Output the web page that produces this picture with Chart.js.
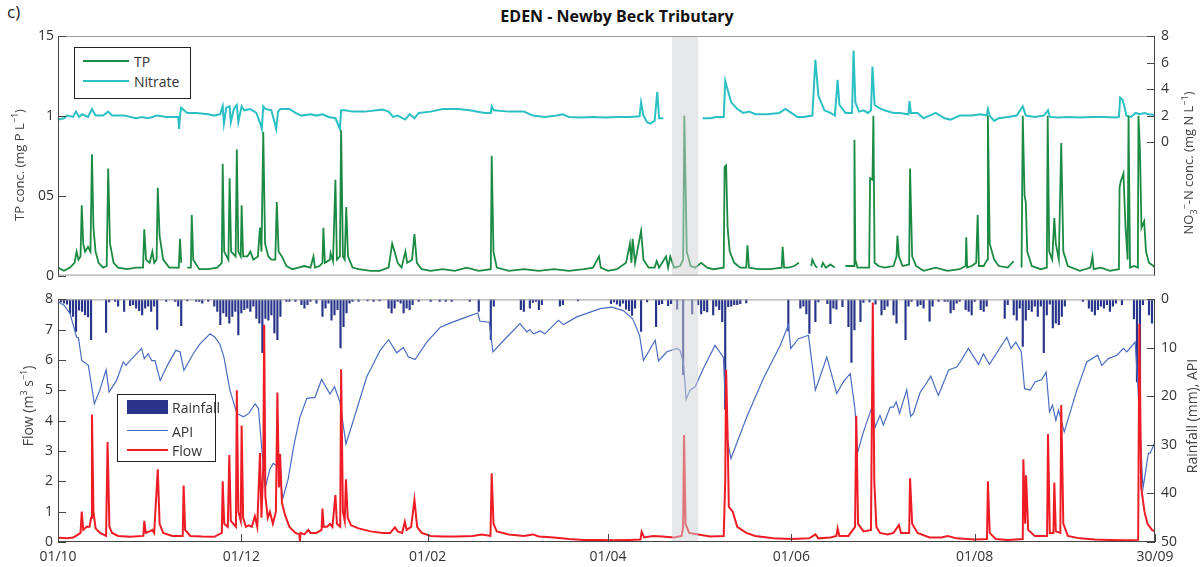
<!DOCTYPE html>
<html>
<head>
<meta charset="utf-8">
<script src="https://cdn.jsdelivr.net/npm/chart.js@4.4.1/dist/chart.umd.min.js"></script>
<style>
  html, body { margin:0; padding:0; background:#fff; }
  body { width:1203px; height:567px; position:relative; overflow:hidden; font-family:"Open Sans", "DejaVu Sans", sans-serif; color:#333; }
  canvas { position:absolute; left:0; }
  .txt { position:absolute; white-space:nowrap; }
  .rot { position:absolute; white-space:nowrap; transform:translate(-50%,-50%) rotate(-90deg); font-size:13px; color:#444; }
  .legend { position:absolute; border:1px solid #222; background:#fff; box-sizing:border-box; }
  .lline { position:absolute; }
  .ltxt { position:absolute; font-size:14px; color:#333; transform:translateY(-50%); }
</style>
</head>
<body>
<div class="txt" style="left:7px; top:0px; font-size:17px; color:#222;">c)</div>
<div class="txt" style="left:617px; top:16px; transform:translate(-50%,-50%); font-size:16px; font-weight:bold; color:#111;">EDEN - Newby Beck Tributary</div>

<canvas id="top" width="1203" height="290" style="top:0px;"></canvas>
<canvas id="bot" width="1203" height="282" style="top:285px;"></canvas>

<div class="rot" style="left:18px; top:165px;">TP conc. (mg P L<sup style="font-size:9px">−1</sup>)</div>
<div class="rot" style="left:1189px; top:163px;">NO<sub style="font-size:9px">3</sub><sup style="font-size:9px">−</sup>-N conc. (mg N L<sup style="font-size:9px">−1</sup>)</div>
<div class="rot" style="left:27px; top:406px; font-size:14px;">Flow (m<sup style="font-size:9px">3</sup> s<sup style="font-size:9px">−1</sup>)</div>
<div class="rot" style="left:1191px; top:416px; font-size:14px;">Rainfall (mm), API</div>

<div class="legend" style="left:74px; top:47px; width:117px; height:52px;"></div>
<div class="lline" style="left:83px; top:60px; width:46px; height:2px; background:#1b8a43;"></div>
<div class="ltxt" style="left:134px; top:61px;">TP</div>
<div class="lline" style="left:83px; top:80px; width:46px; height:2px; background:#2cc0c4;"></div>
<div class="ltxt" style="left:134px; top:81px;">Nitrate</div>

<div class="legend" style="left:117px; top:394px; width:99px; height:68px;"></div>
<div class="lline" style="left:127px; top:400px; width:41px; height:14px; background:#28348a;"></div>
<div class="ltxt" style="left:172px; top:407px;">Rainfall</div>
<div class="lline" style="left:127px; top:430px; width:41px; height:1px; background:#4466bb;"></div>
<div class="ltxt" style="left:172px; top:431px;">API</div>
<div class="lline" style="left:127px; top:449px; width:41px; height:1.5px; background:#ee1c24;"></div>
<div class="ltxt" style="left:172px; top:450px;">Flow</div>

<script>
// ---------------- DATA (day index from 01/10) ----------------
const xTickDays   = [0, 61, 123, 183, 244, 305, 365];
const xTickLabels = ['01/10', '01/12', '01/02', '01/04', '01/06', '01/08', '30/09'];
const bandDays    = [204.3, 213];

const tpTickValues  = [0, 0.5, 1, 1.5];
const tpTickLabels  = ['0', '05', '1', '15'];
const no3TickValues = [0, 2, 4, 6, 8];
const flowTickValues = [0, 1, 2, 3, 4, 5, 6, 7, 8];
const rainTickValues = [0, 10, 20, 30, 40, 50];

// TP concentration (mg P/L)
const tpSeries = [
 [0,0.05],[2,0.03],[4,0.05],[5.5,0.08],[6.2,0.15],[6.8,0.1],[7.5,0.12],[7.9,0.44],[8.4,0.2],[9,0.15],[10,0.18],[10.8,0.15],
 [11.3,0.76],[11.8,0.3],[12.5,0.15],[13.5,0.08],[15,0.05],[16.2,0.06],[16.7,0.67],[17.3,0.2],[18.5,0.08],[20,0.05],[23,0.04],
 [26,0.05],[28.3,0.05],[28.7,0.29],[29.3,0.1],[30.5,0.08],[31.4,0.15],[32,0.08],[32.8,0.1],[33.2,0.55],[33.8,0.25],[35,0.1],
 [37,0.05],[40.2,0.05],[40.6,0.23],[41,0.08],[41.5,null],[43,0.05],[44.2,0.05],[44.5,0.38],[45,0.1],[47,0.04],[50,0.04],[53,0.05],
 [54.5,0.08],[54.8,0.70],[55.3,0.15],[56.7,0.1],[57.1,0.61],[57.6,0.15],[59.1,0.12],[59.5,0.79],[60,0.15],[60.8,0.12],[61.1,0.44],
 [61.6,0.12],[63,0.12],[64,0.15],[65,0.1],[66.5,0.12],[67.2,0.30],[67.7,0.15],[68.3,0.90],[68.9,0.2],[70,0.12],[71,0.1],[72.3,0.1],
 [72.8,0.46],[73.4,0.15],[74.5,0.12],[76,0.06],[78,0.04],[80,0.05],[82,0.06],[84,0.05],[85,0.12],[85.5,0.05],[87,0.06],[88,0.08],
 [88.3,0.30],[88.8,0.08],[90.5,0.1],[90.7,0.14],[91.5,0.09],[92.3,0.60],[92.8,0.1],[93.8,0.12],[94.2,0.91],[94.8,0.12],[95.4,0.1],
 [95.9,0.43],[96.5,0.12],[98,0.05],[100,0.04],[104,0.03],[107,0.03],[110,0.05],[111.2,0.2],[112,0.15],[113,0.08],[114.3,0.05],
 [115.6,0.15],[116.2,0.08],[117.8,0.1],[118.6,0.26],[119.4,0.08],[121,0.04],[124,0.03],[128,0.04],[132,0.03],[136,0.05],[140,0.03],
 [144,0.04],[144.3,0.75],[144.9,0.15],[146,0.05],[150,0.03],[155,0.04],[160,0.03],[165,0.04],[170,0.03],[175,0.04],[178,0.05],
 [180,0.12],[180.6,0.05],[183,0.03],[186,0.04],[189,0.08],[190.3,0.2],[190.8,0.08],[191.2,0.23],[192,0.08],[194,0.28],[194.8,0.1],
 [196.5,0.05],[198.5,0.05],[199.2,0.09],[200,0.05],[202.3,0.12],[203,0.05],[203.7,0.12],[205,0.05],[207,0.06],[208,0.1],[208.4,1.0],
 [209.2,0.15],[210.5,0.06],[212,0.05],[214,0.08],[216,0.05],[218,0.04],[221.5,0.05],[221.8,0.68],[222.3,0.69],[222.8,0.3],[223.5,0.15],
 [225,0.08],[227,0.05],[229,0.05],[229.4,0.19],[229.9,0.05],[233,0.04],[237,0.04],[240.8,0.05],[241.1,0.18],[241.6,0.05],[243,0.05],
 [245,0.06],[246.5,0.08],[247,null],[250.6,0.06],[251,0.1],[252,0.06],[252.6,0.05],[253,null],[254,0.05],[254.5,0.08],[255.5,0.05],
 [257,0.07],[258.5,0.05],[259,null],[262,0.06],[264,0.06],[264.9,0.06],[265,0.85],[265.3,0.1],[266,0.05],[268,0.05],[269.9,0.05],
 [270.2,0.61],[271,0.6],[271.3,1.0],[271.7,0.08],[273,0.06],[275,0.05],[278,0.06],[279,0.12],[279.3,0.25],[279.8,0.12],[281,0.06],
 [283.2,0.07],[283.5,0.67],[284.2,0.12],[285.5,0.06],[288,0.03],[292,0.05],[296,0.03],[300,0.04],[302,0.06],[302.2,0.24],[302.5,0.05],
 [304,0.06],[305.5,0.08],[306,0.38],[306.4,0.06],[308,0.06],[309.2,0.1],[309.4,1.0],[310,0.2],[311.5,0.1],[313,0.06],[316,0.05],
 [318,0.09],[318.3,null],[320.6,0.05],[321,1.0],[321.6,0.5],[322,0.46],[322.5,0.15],[324,0.06],[327,0.04],[329,0.05],[329.3,1.0],
 [329.8,0.15],[330.8,0.1],[331.5,0.36],[332,0.2],[333,0.1],[333.8,0.83],[334.5,0.15],[336,0.06],[340,0.03],[343.5,0.05],[344.2,0.12],
 [344.6,0.04],[347,0.05],[350,0.03],[353,0.04],[353.2,0.55],[353.6,0.59],[354.5,0.64],[355.2,0.3],[355.9,0.1],[356.2,1.0],[356.7,0.05],
 [358,0.06],[359.3,0.05],[359.5,1.0],[360,0.78],[360.5,0.3],[361.4,0.34],[362,0.15],[363,0.08],[364.5,0.06],[365,0.05]
];

// Nitrate (mg N/L)
const no3Series = [
 [0,1.7],[2,1.8],[3,2.0],[5,1.9],[6,2.3],[7,1.9],[8,2.1],[10,1.9],[11.3,2.5],[12.5,2.0],[15,2.0],[16.7,2.3],[18,2.0],[22,2.0],
 [26,1.8],[28,1.9],[30,1.8],[33,2.0],[36,1.9],[40,1.9],[40.3,1.0],[40.6,2.0],[41,2.6],[43,2.2],[46,2.2],[50,2.1],[52,2.0],[54,2.1],
 [54.8,2.7],[55.2,1.4],[56,2.6],[57.1,2.7],[57.5,1.5],[58.5,2.5],[59.5,2.8],[60,1.5],[61.1,2.7],[62,2.4],[64,2.5],[66,2.2],[67.3,1.4],
 [67.8,1.0],[68.3,2.7],[69,2.5],[71,2.4],[72.6,1.0],[73.2,2.3],[74,2.5],[77,2.5],[79,2.2],[81,2.0],[84,2.1],[86,2.0],[88,2.1],
 [90,1.9],[92.3,1.8],[93.8,1.0],[94.2,2.4],[95.5,2.4],[98,2.3],[102,2.3],[106,2.4],[108,2.45],[110,2.3],[111.5,1.9],[113,2.0],
 [115.5,1.7],[117,2.1],[118.6,1.8],[120,2.2],[124,2.3],[128,2.5],[133,2.5],[137,2.4],[142,2.2],[144,2.2],[144.3,2.7],[145,2.4],
 [150,2.3],[155,2.3],[158,2.0],[162,1.9],[166,2.0],[168,2.1],[170,1.9],[174,1.85],[178,1.9],[182,1.85],[186,1.9],[190,1.9],
 [193.5,1.95],[194,3.0],[194.8,2.0],[196,1.5],[197,1.4],[198.5,1.6],[199.4,3.8],[200,1.8],[201.4,1.8],[202,null],[214.5,1.8],
 [217,1.8],[219,1.9],[221.5,1.9],[222,4.6],[223,3.8],[224,3.0],[226,2.5],[228,2.2],[230,2.3],[232,2.1],[236,2.1],[240,2.2],
 [242,2.5],[244,2.2],[246,1.9],[248,1.9],[251,2.0],[252,6.2],[253,3.5],[255,2.4],[257,2.2],[258.5,2.0],[259.4,4.7],[260,2.8],
 [261,2.5],[262,2.2],[264.2,2.2],[264.7,6.9],[265.3,3.0],[266.5,2.3],[268,2.4],[269.5,2.2],[270.5,2.4],[271,5.7],[271.7,2.8],
 [273,2.6],[275,2.4],[278,2.2],[280,2.2],[283,2.1],[283.3,3.1],[283.8,2.2],[286,2.2],[288,1.8],[290,2.0],[292,2.2],[295,1.8],
 [297,1.7],[300,2.0],[304,2.0],[307,2.1],[309,2.0],[309.4,2.5],[310,2.0],[311.5,1.6],[313,1.8],[316,1.9],[319,2.0],[321,2.7],
 [322,2.0],[325,1.9],[328,2.0],[329.4,2.4],[330,1.9],[333,1.85],[336,1.9],[340,1.85],[344,1.9],[348,1.9],[352,1.85],[353,1.9],
 [353.4,3.36],[354.2,3.2],[354.8,2.7],[355.5,2.0],[357,1.9],[358.5,2.2],[360,2.1],[361.5,2.2],[363,2.1],[365,2.05]
];

// Flow (m3/s)
const flowSeries = [
 [0,0.14],[3,0.12],[5,0.15],[6,0.2],[7.5,0.3],[7.9,1.0],[8.4,0.4],[9.5,0.5],[10.5,0.5],[11,0.8],[11.3,4.2],[11.8,1.0],[12.5,0.45],
 [14,0.3],[16,0.2],[16.5,3.3],[17.1,0.5],[18,0.3],[20,0.2],[24,0.17],[28.4,0.2],[28.7,0.7],[29.2,0.3],[30.5,0.35],[31.4,0.4],
 [32,0.3],[33.2,2.4],[33.8,0.6],[35,0.3],[38,0.2],[41.5,0.2],[41.8,1.86],[42.3,0.4],[44,0.2],[48,0.18],[52,0.17],[54.5,0.3],
 [54.8,2.0],[55.3,0.6],[56.5,0.5],[57,2.87],[57.5,0.7],[59.2,0.5],[59.5,5.0],[60,1.0],[60.8,0.7],[61.1,3.84],[61.6,0.8],[62.5,0.5],
 [63.5,0.55],[64.5,0.5],[65.5,0.85],[66.3,0.5],[67.2,2.93],[67.7,0.8],[68.3,2.5],[68.6,7.16],[69,1.5],[69.8,0.8],[70.5,1.0],
 [71.5,0.6],[72.5,1.0],[73,4.93],[73.5,1.8],[73.9,2.9],[74.5,1.3],[75.5,0.9],[77,0.5],[79,0.3],[80.3,0.25],[80.5,0.0],[80.7,0.3],
 [82,0.25],[83.3,0.4],[84,0.3],[86,0.3],[87.7,0.4],[88,1.1],[88.4,0.5],[89.5,0.5],[90.5,0.6],[91.3,0.5],[92.3,1.55],[92.8,0.6],
 [93.9,0.5],[94.2,5.7],[94.8,1.0],[95.4,0.7],[95.8,2.07],[96.4,0.8],[97.5,0.55],[100,0.45],[104,0.35],[108,0.3],[110.5,0.3],
 [112.1,0.48],[113,0.35],[114.5,0.3],[115.4,0.67],[116,0.4],[117.5,0.5],[118.6,1.39],[119.5,0.5],[121,0.3],[124,0.2],[128,0.18],
 [133,0.18],[138,0.2],[141,0.25],[143.9,0.2],[144.3,2.27],[144.9,0.6],[146,0.35],[150,0.25],[155,0.2],[158,0.25],[160,0.18],
 [165,0.15],[170,0.1],[175,0.07],[180,0.07],[185,0.06],[190,0.07],[193.8,0.08],[194.2,0.34],[195,0.15],[198,0.2],[201,0.18],
 [205,0.15],[207.5,0.2],[208,0.5],[208.3,3.53],[208.8,0.6],[210,0.3],[213,0.25],[217,0.18],[221.5,0.2],[222,2.0],[222.3,5.68],
 [222.8,3.5],[223.2,1.16],[224.5,1.0],[226,0.5],[229,0.3],[232,0.2],[238,0.12],[244,0.1],[250,0.12],[252,0.25],[253,0.12],
 [257,0.15],[259,0.2],[259.4,0.45],[260,0.2],[263,0.2],[265.2,0.5],[265.6,4.16],[266.2,0.6],[268,0.35],[270.5,0.4],[271.1,7.9],
 [271.6,2.0],[272.3,0.5],[273.5,0.3],[276,0.25],[278,0.3],[279.8,0.56],[280.5,0.3],[283.2,0.3],[283.5,2.1],[284.2,0.6],[286,0.3],
 [290,0.15],[294,0.15],[296,0.2],[299,0.12],[305,0.08],[309.1,0.1],[309.4,2.0],[310,0.3],[312,0.1],[316,0.07],[321,0.1],
 [321.2,2.73],[321.8,0.6],[322.1,2.2],[322.8,0.4],[325,0.2],[329.1,0.2],[329.4,3.56],[330,0.3],[331.2,0.3],[331.5,1.96],[332,0.35],
 [333.5,0.3],[333.8,4.52],[334.5,0.6],[336,0.2],[340,0.12],[345,0.08],[350,0.07],[355,0.06],[359.4,0.07],[359.8,7.2],[360.4,1.8],
 [361.5,1.0],[362.5,0.6],[364,0.4],[365,0.35]
];

// Antecedent precipitation index (right axis)
const apiSeries = [
 [0,0.5],[2,1.2],[4,2.9],[6.2,7.8],[6.8,7.9],[7.9,12.6],[10.1,13.6],[12.1,21.5],[13.9,18.7],[16,14.5],[17,19.1],[19.5,16.7],
 [21.7,12.9],[22.6,13.6],[24,12.6],[27.8,10.1],[28.7,12.2],[30,11.2],[31.2,12.6],[32.3,12.6],[34,16.7],[36.2,13.8],[39.2,10.5],
 [40.6,10.8],[41.9,14.6],[45,11.2],[47.3,9.1],[50.6,7.1],[52.2,7.8],[53.9,9.3],[55.2,11.9],[57.2,18.7],[59.5,23.5],[61.7,24.2],
 [63.5,23.5],[65.6,21.5],[66.7,22.5],[68.3,34.5],[68.9,39],[70.5,35],[71.6,33.8],[73.3,34.5],[74.8,41],[76.6,37],[78.5,30],
 [80.5,24.3],[82.8,20.4],[85.5,20.2],[87.7,16.5],[90.5,19.5],[92,18],[93.8,21.1],[95.8,29.8],[98.3,24.9],[102.7,16],[107.2,10.5],
 [110,8.3],[112.7,11],[114.9,9.9],[116.6,11.9],[118.8,12.4],[122.7,8.8],[127.1,5.8],[130.4,4.9],[136,3.6],[139.7,2.8],[140.4,4.5],
 [143.5,4.7],[144.7,10.8],[149.3,7.8],[153.7,5.0],[156,6.7],[157,6.2],[158.2,7.1],[160.4,6.5],[162,7.1],[166.5,4.3],[168.2,5.2],
 [172.6,3.6],[180.4,1.9],[184.3,1.6],[188.1,2.3],[191.2,4.0],[193.5,7.4],[194.8,12.6],[198.7,8.4],[199.8,12.7],[202.6,10.8],
 [205.9,10.1],[207,10.5],[208.1,13.2],[209,20.6],[210.3,18.7],[212,18],[214.7,14.3],[218.6,9.5],[221.4,11.9],[222.5,28.3],
 [223.9,32.8],[229.2,24.2],[234.7,16.3],[240.3,9.5],[243,5.3],[243.8,10.1],[246.4,8.1],[249.7,7.4],[252,18.7],[255.8,11.9],
 [259.1,19.4],[261.3,17],[263.6,15.3],[265.2,22.8],[266,31.7],[268,27.3],[270.8,22.2],[271.9,26.3],[273.5,23.9],[274.6,25.9],
 [276.9,22.2],[278,22.2],[278.9,21.1],[280,23.5],[282.4,18.6],[283.7,24.1],[284.6,23.5],[286.9,19.1],[288.5,17.7],[290.4,15.8],
 [292.9,19.8],[296.3,14.6],[299.1,13.9],[300.2,12.9],[302.9,10.1],[306.3,13.4],[307.9,11.2],[309.9,13.4],[315.7,7.8],[317.1,10.1],
 [318.7,8.8],[320.5,10.8],[321.6,18.4],[323.5,18.7],[325.1,17],[327.3,16.5],[328.8,15],[329.9,23.2],[330.9,21.8],[332,24.9],
 [332.9,22.8],[334.8,27.3],[339,18.7],[342.3,12.9],[345.9,11.5],[347.3,13.6],[349.5,12.2],[352.3,11.5],[354.5,10.1],[355.6,10.8],
 [358.4,8.8],[359.2,16.7],[361,39],[362.8,31.7],[363.4,31.7],[364.8,29.7]
];

// Daily rainfall (mm)
const rainSeries = [
 [1,0.5],[2,0.8],[3,1.0],[4,2.9],[5,3.5],[6,6.6],[7,2.2],[8,2.5],[9,3.2],[10,3.6],[11,8.3],[16,6.8],[17,0.5],[19,0.4],[20,1.4],
 [22,2.5],[24,1.3],[25,1.1],[26,1.8],[27,2.3],[28,3.2],[29,1.8],[30,1.4],[31,2.5],[32,1.4],[33,6.2],[36,0.4],[39,0.4],[40,1.4],
 [41,5.4],[43,0.3],[46,0.4],[47,0.4],[48,0.8],[50,0.4],[52,1.4],[53,2.5],[54,5.2],[55,2.8],[56,3.5],[57,4.9],[58,3.5],[59,2.5],
 [60,7.3],[61,2.8],[62,2.1],[63,1.8],[64,2.5],[65,1.4],[66,3.9],[67,4.9],[68,11],[69,3.9],[70,4.3],[71,3.2],[72,6.9],[73,8.3],
 [74,3.5],[76,0.4],[77,0.4],[79,0.4],[81,1.1],[82,1.8],[83,1.1],[84,0.4],[86,0.8],[88,3.5],[89,1.8],[90,0.8],[91,4.3],[92,3.2],
 [93,2.1],[94,10.0],[95,5.6],[96,2.8],[97,0.8],[98,0.4],[100,0.4],[103,0.3],[105,0.4],[107,0.3],[110,1.8],[111,2.8],[112,1.8],
 [113,0.4],[114,0.8],[115,2.8],[116,1.8],[117,2.1],[118,1.1],[120,0.4],[124,0.4],[127,0.4],[129,0.4],[131,0.4],[137,0.4],
 [140,2.5],[144,8.3],[145,1.4],[154,2.1],[155,2.5],[157,1.8],[158,0.6],[159,0.4],[160,2.1],[161,1.1],[167,1.4],[168,1.1],[173,0.3],
 [184,0.9],[185,0.5],[186,1.0],[187,1.4],[188,0.8],[189,2.0],[190,2.3],[191,3.3],[192,1.8],[194,6.6],[196,0.5],[199,5.6],[200,1.1],
 [201,0.9],[203,1.3],[204,0.9],[206,2.0],[208,15.5],[211,3.0],[213,1.1],[214,3.0],[215,2.3],[216,2.6],[218,3.2],[219,1.4],[220,2.1],
 [221,4.6],[222,22.6],[223,1.5],[224,1.4],[225,1.1],[226,1.1],[227,0.9],[229,0.7],[243,6.5],[247,1.8],[248,1.4],[249,3.0],[250,7.0],
 [252,4.6],[253,0.5],[256,0.9],[257,5.0],[258,1.8],[259,2.0],[261,1.5],[263,5.6],[264,13],[265,6.3],[267,4.6],[268,0.6],[270,0.5],
 [272,1.0],[274,3.2],[275,2.1],[276,1.4],[278,3.2],[279,4.9],[282,8.3],[283,1.4],[284,0.4],[286,1.4],[287,1.1],[288,1.8],[290,4.5],
 [291,1.4],[293,0.4],[295,0.4],[296,0.4],[297,2.8],[298,2.1],[299,0.8],[300,0.4],[302,2.1],[303,2.5],[304,3.2],[305,0.4],[307,2.1],
 [308,2.5],[309,1.4],[315,3.9],[316,1.1],[318,3.2],[319,4.3],[320,1.8],[321,9.7],[322,4.3],[323,2.1],[324,2.5],[325,1.4],[326,3.5],
 [327,1.4],[328,11.0],[329,3.2],[330,1.0],[331,5.9],[332,4.9],[333,5.2],[334,3.5],[335,1.4],[341,0.4],[343,1.8],[344,2.5],[345,3.2],
 [346,2.1],[347,1.4],[348,1.8],[349,1.1],[350,2.5],[351,1.4],[352,0.8],[354,1.1],[358,4.0],[359,17],[360,18],[361,1.1],[363,3.2],
 [364,4.9]
];

// ---------------- helpers ----------------
const toXY = s => s.map(p => ({x: p[0], y: p[1]}));
const FONT = {family: '"Open Sans", "DejaVu Sans", sans-serif', size: 14};
const TICKCOL = '#333';

function fixedTicks(values) {
  return function(scale) { scale.ticks = values.map(v => ({value: v})); };
}

const framePlugin = {
  id: 'frame',
  afterDatasetsDraw(chart, args, opts) {
    const {ctx, chartArea: a, scales} = chart;
    ctx.save();
    // highlighted period
    const bx0 = scales.x.getPixelForValue(bandDays[0]);
    const bx1 = scales.x.getPixelForValue(bandDays[1]);
    ctx.fillStyle = 'rgba(206,208,212,0.5)';
    ctx.fillRect(bx0, a.top, bx1 - bx0, a.bottom - a.top);
    // box
    ctx.lineWidth = 1;
    ctx.strokeStyle = opts.boxColor || '#999';
    ctx.strokeRect(a.left + 0.5, a.top + 0.5, a.right - a.left - 1, a.bottom - a.top - 1);
    ctx.strokeStyle = '#444';
    ctx.beginPath();
    ctx.moveTo(a.left + 0.5, a.top); ctx.lineTo(a.left + 0.5, a.bottom);
    ctx.moveTo(a.right - 0.5, a.top); ctx.lineTo(a.right - 0.5, a.bottom);
    if (opts.bottomDark) { ctx.moveTo(a.left, a.bottom - 0.5); ctx.lineTo(a.right, a.bottom - 0.5); }
    ctx.stroke();
    // inward ticks
    ctx.strokeStyle = '#444';
    ctx.beginPath();
    for (const id of Object.keys(scales)) {
      const s = scales[id];
      if (!s.options.display) continue;
      for (const t of s.ticks) {
        const p = Math.round(s.getPixelForValue(t.value)) + 0.5;
        if (s.axis === 'y') {
          if (s.position === 'left') { ctx.moveTo(a.left, p); ctx.lineTo(a.left + 8, p); }
          else { ctx.moveTo(a.right, p); ctx.lineTo(a.right - 8, p); }
        } else {
          ctx.moveTo(p, a.bottom); ctx.lineTo(p, a.bottom - 8);
        }
      }
    }
    ctx.stroke();
    ctx.restore();
  }
};

Chart.defaults.font = FONT;
Chart.defaults.color = TICKCOL;

const yAxisCommon = {
  grid: {display: false, drawTicks: false},
  border: {display: false},
};

// ---------------- top panel ----------------
new Chart(document.getElementById('top'), {
  type: 'line',
  data: {
    datasets: [
      {label: 'TP', data: toXY(tpSeries), yAxisID: 'y', borderColor: '#1b8a43', borderWidth: 1.8,
       pointRadius: 0, tension: 0, spanGaps: false, order: 0},
      {label: 'Nitrate', data: toXY(no3Series), yAxisID: 'y2', borderColor: '#2cc0c4', borderWidth: 2,
       pointRadius: 0, tension: 0, spanGaps: false, order: 1}
    ]
  },
  options: {
    responsive: false, animation: false, devicePixelRatio: 1,
    layout: {padding: {top: 36, bottom: 12, left: 0, right: 0}},
    plugins: {legend: {display: false}, tooltip: {enabled: false}, frame: {boxColor: '#9a9a9a'}},
    scales: {
      x: {type: 'linear', min: 0, max: 365, display: false},
      y: Object.assign({}, yAxisCommon, {
        position: 'left', min: 0, max: 1.5,
        afterBuildTicks: fixedTicks(tpTickValues),
        afterFit: s => { s.width = 58; },
        ticks: {padding: 4, color: TICKCOL, callback: v => tpTickLabels[tpTickValues.indexOf(v)]}
      }),
      y2: Object.assign({}, yAxisCommon, {
        position: 'right', min: -10.06, max: 8,
        afterBuildTicks: fixedTicks(no3TickValues),
        afterFit: s => { s.width = 48; },
        ticks: {padding: 6, color: TICKCOL}
      })
    }
  },
  plugins: [framePlugin]
});

// ---------------- bottom panel ----------------
new Chart(document.getElementById('bot'), {
  type: 'bar',
  data: {
    datasets: [
      {type: 'line', label: 'Flow', data: toXY(flowSeries), yAxisID: 'y', borderColor: '#ee1c24', borderWidth: 2,
       pointRadius: 0, tension: 0, order: 0},
      {type: 'line', label: 'API', data: toXY(apiSeries), yAxisID: 'y2', borderColor: '#4a6cc0', borderWidth: 1.2,
       pointRadius: 0, tension: 0, order: 1},
      {type: 'bar', label: 'Rainfall', data: toXY(rainSeries), yAxisID: 'y2', backgroundColor: '#28348a',
       barThickness: 1.5, order: 2}
    ]
  },
  options: {
    responsive: false, animation: false, devicePixelRatio: 1,
    layout: {padding: {top: 14, bottom: 0, left: 0, right: 0}},
    plugins: {legend: {display: false}, tooltip: {enabled: false}, frame: {boxColor: '#9a9a9a', bottomDark: true}},
    scales: {
      x: {
        type: 'linear', min: 0, max: 365, offset: false,
        grid: {display: false, drawTicks: false, offset: false},
        border: {display: false},
        afterBuildTicks: fixedTicks(xTickDays),
        afterFit: s => { s.height = 25; },
        ticks: {padding: 7, maxRotation: 0, autoSkip: false, color: TICKCOL,
                callback: v => xTickLabels[xTickDays.indexOf(v)]}
      },
      y: Object.assign({}, yAxisCommon, {
        position: 'left', min: 0, max: 8,
        afterBuildTicks: fixedTicks(flowTickValues),
        afterFit: s => { s.width = 58; },
        ticks: {padding: 5, color: TICKCOL}
      }),
      y2: Object.assign({}, yAxisCommon, {
        position: 'right', min: 0, max: 50, reverse: true,
        afterBuildTicks: fixedTicks(rainTickValues),
        afterFit: s => { s.width = 48; },
        ticks: {padding: 6, color: TICKCOL}
      })
    }
  },
  plugins: [framePlugin]
});
</script>
</body>
</html>
